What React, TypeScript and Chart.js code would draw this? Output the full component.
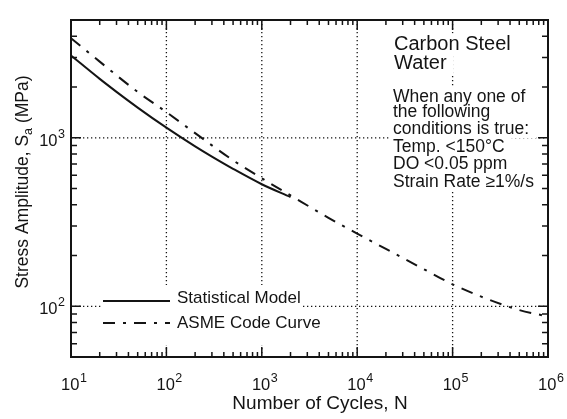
import React, { useEffect, useRef } from 'react';
import { Chart, registerables } from 'chart.js';

Chart.register(...registerables);

// ---- data ----
const modelCycles = [10, 20, 30, 50, 100, 200, 300, 500, 1000, 2000];
const modelStress = [3080, 2236, 1873, 1511, 1148, 889, 773, 654, 530, 445];

const asmeCycles = [10, 20, 50, 100, 200, 500, 1000, 2000, 5000, 1e4, 2e4, 5e4, 1e5, 2e5, 5e5, 1e6];
const asmeStress = [3900, 2830, 1870, 1420, 1066, 735, 575, 455, 335, 270, 219, 166, 135, 114, 95, 87];

const xMajorTicks = [10, 100, 1e3, 1e4, 1e5, 1e6];
const xTickExponents = ['1', '2', '3', '4', '5', '6'];
const yMajorTicks = [100, 1000];
const yTickExponents = ['2', '3'];

const seriesLabels = ['Statistical Model', 'ASME Code Curve'];
const xTitle = 'Number of Cycles, N';
const yTitleMain = 'Stress Amplitude, S';
const yTitleSub = 'a';
const yTitleTail = ' (MPa)';
const noteHeader = ['Carbon Steel', 'Water'];
const noteBody = [
  'When any one of',
  'the following',
  'conditions is true:',
  'Temp. <150°C',
  'DO <0.05 ppm',
  'Strain Rate ≥1%/s',
];

const FONT = '"Liberation Sans", Arial, Helvetica, sans-serif';
const INK = '#141414';
const DASH_DOT = [12, 8, 3, 8];

function minorValues(min: number, max: number): number[] {
  const out: number[] = [];
  for (let d = 1; d <= 1e6; d *= 10) {
    for (let m = 2; m <= 9; m++) {
      const v = d * m;
      if (v > min && v < max) out.push(v);
    }
  }
  return out;
}

function drawPower(ctx: CanvasRenderingContext2D, exp: string, left: number, baseline: number) {
  ctx.font = `16.5px ${FONT}`;
  ctx.textAlign = 'left';
  ctx.textBaseline = 'alphabetic';
  ctx.fillText('10', left, baseline);
  const w = ctx.measureText('10').width;
  ctx.font = `12.5px ${FONT}`;
  ctx.fillText(exp, left + w + 0.5, baseline - 8);
}

function powerWidth(ctx: CanvasRenderingContext2D, exp: string) {
  ctx.font = `16.5px ${FONT}`;
  const w = ctx.measureText('10').width;
  ctx.font = `12.5px ${FONT}`;
  return w + 0.5 + ctx.measureText(exp).width;
}

type Line = { text: string; x: number; base: number; size: number };

function boxedLines(ctx: CanvasRenderingContext2D, lines: Line[]) {
  ctx.fillStyle = '#ffffff';
  for (const l of lines) {
    ctx.font = `${l.size}px ${FONT}`;
    const w = ctx.measureText(l.text).width;
    ctx.fillRect(l.x - 2, l.base - 0.8 * l.size, w + 9, 1.08 * l.size);
  }
  ctx.fillStyle = INK;
  ctx.textAlign = 'left';
  ctx.textBaseline = 'alphabetic';
  for (const l of lines) {
    ctx.font = `${l.size}px ${FONT}`;
    ctx.fillText(l.text, l.x, l.base);
  }
}

const decorPlugin = {
  id: 'decor',
  beforeDatasetsDraw(chart: any) {
    const { ctx, chartArea: a } = chart;
    const xs = chart.scales.x;
    const ys = chart.scales.y;
    ctx.save();
    ctx.strokeStyle = INK;
    ctx.lineWidth = 1.3;
    ctx.setLineDash([1.3, 2.7]);
    for (const v of xMajorTicks) {
      const px = xs.getPixelForValue(v);
      if (px <= a.left + 1 || px >= a.right - 1) continue;
      ctx.beginPath();
      ctx.moveTo(px, a.top);
      ctx.lineTo(px, a.bottom);
      ctx.stroke();
    }
    for (const v of yMajorTicks) {
      const py = ys.getPixelForValue(v);
      ctx.beginPath();
      ctx.moveTo(a.left, py);
      ctx.lineTo(a.right, py);
      ctx.stroke();
    }
    ctx.restore();
  },
  afterDatasetsDraw(chart: any) {
    const { ctx, chartArea: a } = chart;
    const xs = chart.scales.x;
    const ys = chart.scales.y;
    ctx.save();

    // legend (white box, samples, labels)
    ctx.fillStyle = '#ffffff';
    ctx.fillRect(101, 285, 200, 60);
    ctx.strokeStyle = INK;
    ctx.lineWidth = 2;
    ctx.setLineDash([]);
    ctx.beginPath();
    ctx.moveTo(103, 301);
    ctx.lineTo(170, 301);
    ctx.stroke();
    ctx.setLineDash(DASH_DOT);
    ctx.beginPath();
    ctx.moveTo(103, 323);
    ctx.lineTo(170, 323);
    ctx.stroke();
    ctx.setLineDash([]);
    ctx.fillStyle = INK;
    ctx.font = `17px ${FONT}`;
    ctx.textAlign = 'left';
    ctx.textBaseline = 'alphabetic';
    ctx.fillText(seriesLabels[0], 177, 302.5);
    ctx.fillText(seriesLabels[1], 177, 327.5);

    // annotation
    const headerBase = [49.5, 68.5];
    const bodyBase = [101.5, 116.5, 133.5, 152, 168.5, 186.5];
    const lines: Line[] = [
      ...noteHeader.map((t, i) => ({ text: t, x: 394, base: headerBase[i], size: 20 })),
      ...noteBody.map((t, i) => ({ text: t, x: 393, base: bodyBase[i], size: 17.5 })),
    ];
    boxedLines(ctx, lines);

    // frame
    ctx.strokeStyle = INK;
    ctx.lineWidth = 2;
    ctx.strokeRect(a.left, a.top, a.right - a.left, a.bottom - a.top);

    // ticks (inward, all four sides)
    ctx.lineWidth = 1.5;
    const tick = (px: number, len: number) => {
      ctx.beginPath();
      ctx.moveTo(px, a.bottom);
      ctx.lineTo(px, a.bottom - len);
      ctx.moveTo(px, a.top);
      ctx.lineTo(px, a.top + len);
      ctx.stroke();
    };
    const ytick = (py: number, len: number) => {
      ctx.beginPath();
      ctx.moveTo(a.left, py);
      ctx.lineTo(a.left + len, py);
      ctx.moveTo(a.right, py);
      ctx.lineTo(a.right - len, py);
      ctx.stroke();
    };
    for (const v of minorValues(10, 1e6)) tick(xs.getPixelForValue(v), 5);
    for (const v of xMajorTicks) tick(xs.getPixelForValue(v), 10);
    for (const v of minorValues(50, 5000)) ytick(ys.getPixelForValue(v), 6);
    for (const v of yMajorTicks) ytick(ys.getPixelForValue(v), 10);

    // tick labels
    ctx.fillStyle = INK;
    xMajorTicks.forEach((v, i) => {
      const px = xs.getPixelForValue(v);
      const w = powerWidth(ctx, xTickExponents[i]);
      drawPower(ctx, xTickExponents[i], px - w / 2 + 3, 390);
    });
    yMajorTicks.forEach((v, i) => {
      const py = ys.getPixelForValue(v);
      const w = powerWidth(ctx, yTickExponents[i]);
      drawPower(ctx, yTickExponents[i], 65 - w, py + 8);
    });

    // x title
    ctx.font = `19px ${FONT}`;
    ctx.textAlign = 'center';
    ctx.fillText(xTitle, 320, 409);

    // y title (rotated, with subscript)
    ctx.save();
    ctx.translate(28, 182);
    ctx.rotate(-Math.PI / 2);
    ctx.textAlign = 'left';
    ctx.font = `17.5px ${FONT}`;
    const w1 = ctx.measureText(yTitleMain).width;
    const w3 = ctx.measureText(yTitleTail).width;
    ctx.font = `12.5px ${FONT}`;
    const w2 = ctx.measureText(yTitleSub).width;
    let x0 = -(w1 + w2 + w3) / 2;
    ctx.font = `17.5px ${FONT}`;
    ctx.fillText(yTitleMain, x0, 0);
    x0 += w1;
    ctx.font = `12.5px ${FONT}`;
    ctx.fillText(yTitleSub, x0, 4);
    x0 += w2;
    ctx.font = `17.5px ${FONT}`;
    ctx.fillText(yTitleTail, x0, 0);
    ctx.restore();

    ctx.restore();
  },
};

export default function App() {
  const canvasRef = useRef<HTMLCanvasElement | null>(null);

  useEffect(() => {
    const canvas = canvasRef.current;
    if (!canvas) return;
    const chart = new Chart(canvas, {
      type: 'line',
      data: {
        datasets: [
          {
            label: seriesLabels[0],
            data: modelCycles.map((c, i) => ({ x: c, y: modelStress[i] })),
            borderColor: INK,
            borderWidth: 2,
            pointRadius: 0,
            cubicInterpolationMode: 'monotone',
            fill: false,
          },
          {
            label: seriesLabels[1],
            data: asmeCycles.map((c, i) => ({ x: c, y: asmeStress[i] })),
            borderColor: INK,
            borderWidth: 2,
            borderDash: DASH_DOT,
            pointRadius: 0,
            cubicInterpolationMode: 'monotone',
            fill: false,
          },
        ],
      },
      options: {
        responsive: false,
        animation: false,
        devicePixelRatio: 1,
        layout: { padding: { left: 71, right: 19, top: 20, bottom: 62 } },
        plugins: { legend: { display: false }, tooltip: { enabled: false } },
        scales: {
          x: { type: 'logarithmic', min: 10, max: 1e6, display: false },
          y: { type: 'logarithmic', min: 50, max: 5000, display: false },
        },
      },
      plugins: [decorPlugin],
    } as any);
    return () => chart.destroy();
  }, []);

  return (
    <div style={{ position: 'absolute', left: 0, top: 0, width: 567, height: 419, background: '#fff' }}>
      <canvas ref={canvasRef} width={567} height={419} style={{ display: 'block' }} />
    </div>
  );
}
